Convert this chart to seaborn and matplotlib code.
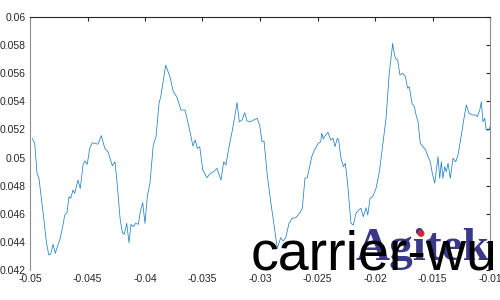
import matplotlib
matplotlib.use("Agg")
import matplotlib.pyplot as plt
from matplotlib.patches import Ellipse
import seaborn as sns
import pandas as pd

x_vals = [
    -0.04980, -0.04959, -0.04939, -0.04922, -0.04887, -0.04858, -0.04837, -0.04820, -0.04800, -0.04780,
    -0.04757, -0.04737, -0.04713, -0.04698, -0.04678, -0.04661, -0.04646, -0.04626, -0.04611, -0.04583,
    -0.04563, -0.04539, -0.04524, -0.04502, -0.04481, -0.04458, -0.04409, -0.04380, -0.04350, -0.04322,
    -0.04284, -0.04261, -0.04241, -0.04217, -0.04197, -0.04180, -0.04159, -0.04139, -0.04122, -0.04102,
    -0.04081, -0.04058, -0.04041, -0.04020, -0.04000, -0.03980, -0.03957, -0.03928, -0.03904, -0.03878,
    -0.03863, -0.03820, -0.03783, -0.03754, -0.03724, -0.03687, -0.03652, -0.03615, -0.03583, -0.03563,
    -0.03545, -0.03524, -0.03498, -0.03461, -0.03432, -0.03403, -0.03374, -0.03359, -0.03339, -0.03316,
    -0.03296, -0.03272, -0.03243, -0.03215, -0.03200, -0.03180, -0.03156, -0.03133, -0.03113, -0.03084,
    -0.03055, -0.03026, -0.03003, -0.02983, -0.02965, -0.02937, -0.02907, -0.02878, -0.02850, -0.02820,
    -0.02800, -0.02776, -0.02748, -0.02719, -0.02689, -0.02655, -0.02632, -0.02609, -0.02589, -0.02550,
    -0.02530, -0.02493, -0.02472, -0.02463, -0.02449, -0.02429, -0.02409, -0.02385, -0.02365, -0.02348,
    -0.02328, -0.02316, -0.02296, -0.02276, -0.02258, -0.02237, -0.02209, -0.02189, -0.02165, -0.02142,
    -0.02122, -0.02102, -0.02078, -0.02063, -0.02043, -0.02020, -0.01991, -0.01962, -0.01933, -0.01904,
    -0.01876, -0.01846, -0.01841, -0.01823, -0.01803, -0.01783, -0.01759, -0.01736, -0.01716, -0.01702,
    -0.01678, -0.01658, -0.01643, -0.01626, -0.01606, -0.01583, -0.01559, -0.01539, -0.01519, -0.01502,
    -0.01481, -0.01467, -0.01452, -0.01437, -0.01423, -0.01409, -0.01394, -0.01380, -0.01365, -0.01345,
    -0.01322, -0.01298, -0.01278, -0.01249, -0.01226, -0.01206, -0.01182, -0.01154, -0.01124, -0.01110,
    -0.01089, -0.01075, -0.01061, -0.01046, -0.01032, -0.01009, -0.01000,
]
y_vals = [
    0.05137, 0.05101, 0.04888, 0.04852, 0.04615, 0.04401, 0.04307, 0.04312, 0.04383, 0.04319,
    0.04378, 0.04426, 0.04520, 0.04591, 0.04610, 0.04722, 0.04710, 0.04769, 0.04746, 0.04840,
    0.04780, 0.04947, 0.04975, 0.04952, 0.05066, 0.05106, 0.05095, 0.05156, 0.05066, 0.05042,
    0.04942, 0.04970, 0.04805, 0.04568, 0.04468, 0.04454, 0.04532, 0.04394, 0.04525, 0.04508,
    0.04532, 0.04525, 0.04615, 0.04679, 0.04532, 0.04722, 0.04817, 0.05089, 0.05149, 0.05386,
    0.05433, 0.05658, 0.05575, 0.05469, 0.05433, 0.05338, 0.05338, 0.05208, 0.05082, 0.05125,
    0.05066, 0.05077, 0.04912, 0.04857, 0.04887, 0.04900, 0.04923, 0.04887, 0.04840, 0.04970,
    0.04947, 0.05066, 0.05183, 0.05314, 0.05392, 0.05255, 0.05267, 0.05319, 0.05260, 0.05255,
    0.05267, 0.05279, 0.05232, 0.05114, 0.05118, 0.04876, 0.04686, 0.04520, 0.04354, 0.04430,
    0.04406, 0.04430, 0.04532, 0.04568, 0.04572, 0.04604, 0.04639, 0.04853, 0.04857, 0.05006,
    0.05047, 0.05101, 0.05113, 0.05173, 0.05132, 0.05160, 0.05180, 0.05125, 0.05137, 0.05077,
    0.05137, 0.05125, 0.04995, 0.04935, 0.04959, 0.04805, 0.04532, 0.04520, 0.04603, 0.04627,
    0.04639, 0.04579, 0.04643, 0.04591, 0.04710, 0.04722, 0.04781, 0.04899, 0.05089, 0.05279,
    0.05600, 0.05813, 0.05777, 0.05706, 0.05694, 0.05587, 0.05600, 0.05575, 0.05493, 0.05505,
    0.05386, 0.05362, 0.05303, 0.05255, 0.05101, 0.05077, 0.05054, 0.05006, 0.04970, 0.04888,
    0.04817, 0.04911, 0.05006, 0.04852, 0.04970, 0.04852, 0.04935, 0.04899, 0.04959, 0.04852,
    0.04995, 0.04970, 0.05018, 0.05160, 0.05279, 0.05374, 0.05315, 0.05303, 0.05303, 0.05291,
    0.05338, 0.05397, 0.05255, 0.05279, 0.05196, 0.05196, 0.05220,
]

x_ticks = [-0.05, -0.045, -0.04, -0.035, -0.03, -0.025, -0.02, -0.015, -0.01]
x_tick_labels = ["-0.05", "-0.045", "-0.04", "-0.035", "-0.03", "-0.025", "-0.02", "-0.015", "-0.01"]
y_ticks = [0.042, 0.044, 0.046, 0.048, 0.05, 0.052, 0.054, 0.056, 0.058, 0.06]
y_tick_labels = ["0.042", "0.044", "0.046", "0.048", "0.05", "0.052", "0.054", "0.056", "0.058", "0.06"]

sns.set_style("white")
plt.rcParams["font.family"] = ["Liberation Sans", "DejaVu Sans"]

df = pd.DataFrame({"x": x_vals, "y": y_vals})

fig = plt.figure(figsize=(5, 3), dpi=100)
ax = fig.add_axes([0.06, 0.1, 0.92, 0.8433])
sns.lineplot(data=df, x="x", y="y", ax=ax, color="#1f80c8", linewidth=0.55,
             estimator=None, sort=False)

ax.set_xlim(-0.05, -0.01)
ax.set_ylim(0.042, 0.06)
ax.set_xticks(x_ticks)
ax.set_xticklabels(x_tick_labels)
ax.set_yticks(y_ticks)
ax.set_yticklabels(y_tick_labels)
ax.set_xlabel("")
ax.set_ylabel("")

ax.tick_params(axis="both", direction="in", length=3, width=0.8, colors="#262626",
               labelsize=7.5, pad=3, top=True, right=True)
ax.spines["top"].set_color("#262626")
ax.spines["top"].set_linewidth(0.8)
for s in ["left", "right"]:
    ax.spines[s].set_visible(True)
    ax.spines[s].set_color("#8f8f8f")
    ax.spines[s].set_linewidth(0.8)
ax.spines["bottom"].set_visible(False)

# watermarks
fig.text(0.712, 0.132, "Agitek", fontsize=34, fontweight="bold",
         family=["Liberation Serif", "DejaVu Serif"], color="#24237a", alpha=0.9,
         ha="left", va="baseline", zorder=5)
fig.patches.append(Ellipse((0.842, 0.222), 7 / 500, 7 / 300, transform=fig.transFigure,
                           facecolor="#d62828", edgecolor="none", zorder=6))
fig.text(0.502, 0.1, "carrier-wu", fontsize=40, color="black",
         ha="left", va="baseline", zorder=7)

fig.savefig("out.png", dpi=100)
